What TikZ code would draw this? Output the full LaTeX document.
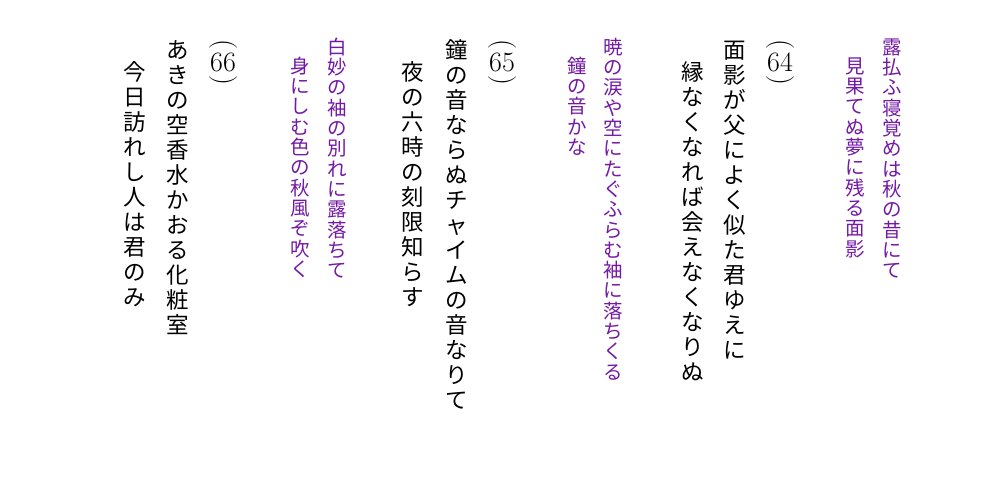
\documentclass[tikz,border=0pt]{standalone}
\usepackage{fontspec}
\newfontfamily\jpfont{Noto Sans CJK JP}
\definecolor{waka}{RGB}{115,25,165}
\ExplSyntaxOn
\cs_new_eq:NN \tatemap \tl_map_inline:nn
\ExplSyntaxOff
\newcommand\tate[1]{\vtop{\lineskiplimit=-\maxdimen\lineskip=0pt
  \tatemap{#1}{\hbox to\baselineskip{\hss\vrule height .88em depth .12em width 0pt ##1\hss}}}}

\begin{document}
\begin{tikzpicture}[x=1pt, y=-1pt,
    honka/.style={font=\jpfont\fontsize{22.5}{25}\selectfont, inner sep=0pt, anchor=north},
    kaeshi/.style={font=\jpfont\fontsize{19.5}{20.3}\selectfont, text=waka, inner sep=0pt, anchor=north},
    num/.style={font=\fontsize{28}{28}\selectfont, inner sep=0pt},
    paren/.style={num, rotate=-90}]
    \useasboundingbox (0,0) rectangle (1000,485);
    \node[kaeshi] (k64a) at (892,37) {\tate{露払ふ寝覚めは秋の昔にて}};
    \node[kaeshi] (k64b) at (855,56) {\tate{見果てぬ夢に残る面影}};
    \node[num]   (n64)  at (780,62) {64};
    \node[paren] (p64a) at (780,44) {(};
    \node[paren] (p64b) at (780,80) {)};
    \node[honka] (h64a) at (735,38) {\tate{面影が父によく似た君ゆえに}};
    \node[honka] (h64b) at (693,60) {\tate{縁なくなれば会えなくなりぬ}};

    \node[kaeshi] (k65a) at (613,37) {\tate{暁の涙や空にたぐふらむ袖に落ちくる}};
    \node[kaeshi] (k65b) at (577,56) {\tate{鐘の音かな}};
    \node[num]   (n65)  at (502,62) {65};
    \node[paren] (p65a) at (502,44) {(};
    \node[paren] (p65b) at (502,80) {)};
    \node[honka] (h65a) at (457,38) {\tate{鐘の音ならぬチャイムの音なりて}};
    \node[honka] (h65b) at (413,60) {\tate{夜の六時の刻限知らす}};

    \node[kaeshi] (k66a) at (337,37) {\tate{白妙の袖の別れに露落ちて}};
    \node[kaeshi] (k66b) at (300,56) {\tate{身にしむ色の秋風ぞ吹く}};
    \node[num]   (n66)  at (223,62) {66};
    \node[paren] (p66a) at (223,44) {(};
    \node[paren] (p66b) at (223,80) {)};
    \node[honka] (h66a) at (178,38) {\tate{あきの空香水かおる化粧室}};
    \node[honka] (h66b) at (135,60) {\tate{今日訪れし人は君のみ}};
\end{tikzpicture}
\end{document}
